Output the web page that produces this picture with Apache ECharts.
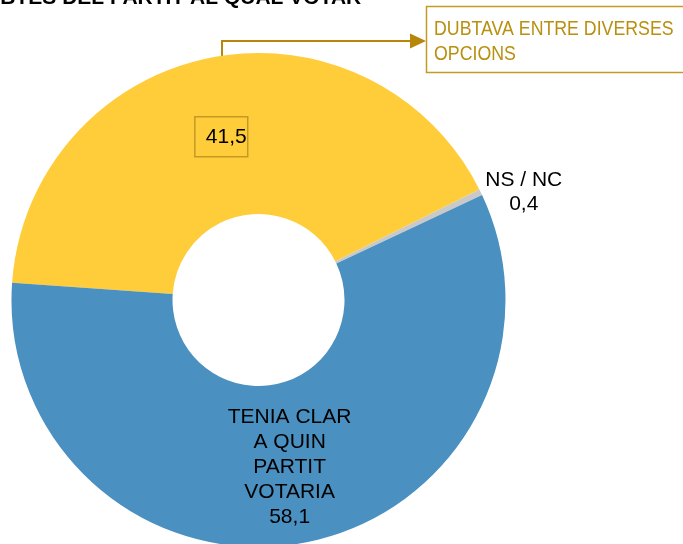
<!DOCTYPE html>
<html>
<head>
<meta charset="utf-8">
<script src="https://cdn.jsdelivr.net/npm/echarts@6/dist/echarts.min.js"></script>
<style>
  html, body { margin: 0; padding: 0; background: #fff; }
  #myChart { width: 683px; height: 544px; }
</style>
</head>
<body>
<div id="myChart"></div>
<script>
// dades
var categories = ['DUBTAVA ENTRE DIVERSES\nOPCIONS', 'NS / NC', 'TENIA CLAR\nA QUIN\nPARTIT\nVOTARIA'];
var values = [41.5, 0.4, 58.1];
var titleText = 'DUBTES DEL PARTIT AL QUAL VOTAR';

var colors = ['#FFCC3A', '#C9C9C9', '#4A90C1'];
var gold = '#B8860B';
var font = 'Liberation Sans, Arial, sans-serif';

function fmt(v) {
  return v.toFixed(1).replace('.', ',');
}

var pieData = values.map(function (v, i) {
  var item = { name: categories[i], value: v, itemStyle: { color: colors[i] } };
  if (i === 0) {
    item.label = {
      position: 'inside',
      formatter: function (p) { return fmt(p.value); },
      borderColor: '#C39A25',
      borderWidth: 1.5,
      lineHeight: 24,
      padding: [8, 1, 8, 11]
    };
  } else if (i === 1) {
    item.label = {
      position: 'outside',
      distanceToLabelLine: 3,
      formatter: function (p) { return '{t|' + p.name + '\n' + fmt(p.value) + '}'; },
      rich: { t: { width: 80, align: 'center', fontSize: 21, lineHeight: 24, color: '#000', fontFamily: font } }
    };
    item.labelLine = { show: false, length: 0, length2: 0 };
  } else {
    item.label = {
      position: 'inside',
      formatter: function (p) { return p.name + '\n' + fmt(p.value); }
    };
  }
  return item;
});

var option = {
  animation: false,
  title: {
    text: titleText,
    left: -30,
    top: -12,
    padding: 0,
    textStyle: { fontSize: 21, fontWeight: 'bold', fontFamily: font, color: '#000' }
  },
  series: [{
    type: 'pie',
    center: [258.5, 300],
    radius: [86, 247],
    startAngle: 176,
    clockwise: true,
    avoidLabelOverlap: false,
    emphasis: { disabled: true },
    label: {
      show: true,
      fontSize: 21,
      lineHeight: 25,
      color: '#000',
      fontFamily: font,
      align: 'center'
    },
    labelLayout: function (params) {
      if (params.dataIndex === 0) return { dx: -4, dy: 3 };
      if (params.dataIndex === 2) return { dy: 1 };
    },
    data: pieData
  }],
  graphic: [
    {
      type: 'polyline',
      shape: { points: [[222, 117], [222, 41], [412, 41]] },
      style: { stroke: gold, lineWidth: 2, fill: null }
    },
    {
      type: 'polygon',
      shape: { points: [[410, 33.5], [426, 41], [410, 48.5]] },
      style: { fill: gold }
    },
    {
      type: 'rect',
      shape: { x: 426.5, y: 6.5, width: 262, height: 66 },
      style: { stroke: '#C39A25', lineWidth: 1.5, fill: null }
    },
    {
      type: 'text',
      x: 434,
      y: 17,
      scaleX: 0.845,
      style: {
        text: categories[0],
        font: '21px "Liberation Sans", Arial, sans-serif',
        fill: '#B8900F',
        lineHeight: 25,
        textVerticalAlign: 'top'
      }
    }
  ]
};

var myChart = echarts.init(document.getElementById('myChart'));
myChart.setOption(option);
</script>
</body>
</html>
